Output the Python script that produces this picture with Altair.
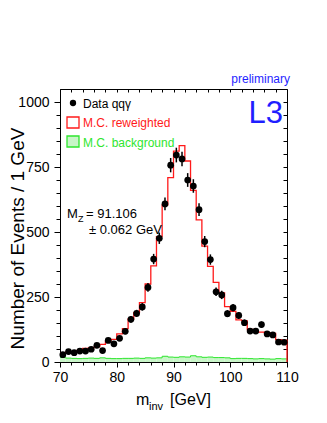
import altair as alt
import pandas as pd

# ---------------- data ----------------
bin_low = list(range(70, 110))  # 1 GeV bins, low edges
data_counts = [28, 40, 36, 42, 42, 49, 64, 44, 83, 70,
               91, 118, 164, 187, 212, 287, 396, 476, 608, 757,
               796, 781, 700, 677, 586, 463, 394, 270, 258, 186,
               209, 179, 151, 119, 119, 144, 108, 104, 77, 76]
mc_counts = [36, 38, 40, 45, 52, 54, 58, 68, 80, 87,
             108, 128, 166, 190, 228, 300, 370, 482, 604, 709,
             811, 832, 773, 660, 547, 446, 368, 306, 266, 213,
             195, 162, 158, 125, 115, 115, 113, 110, 86, 84]
bkg_counts = [18, 15, 14, 13, 14, 15, 14, 16, 14, 13,
              13, 14, 14, 15, 14, 16, 15, 16, 22, 19,
              18, 20, 19, 24, 20, 18, 19, 17, 17, 16,
              13, 14, 14, 13, 12, 13, 12, 11, 13, 12]
x_ticks = list(range(70, 111, 2))
y_ticks = list(range(0, 1001, 50))

FONT = "Liberation Sans"
RED = "#ff1a1a"
GREEN = "#2ee62e"
GREEN_FILL = "#c8f5c8"
BLUE = "#1f1fff"

pts = pd.DataFrame({"m": [b + 0.5 for b in bin_low], "n": data_counts})
rows = [{"m": b, "mc": mc_counts[i], "bkg": bkg_counts[i], "o": i} for i, b in enumerate(bin_low)]
rows.append({"m": 110, "mc": mc_counts[-1], "bkg": bkg_counts[-1], "o": len(bin_low)})
hist = pd.DataFrame(rows)
hist_drop = pd.DataFrame(rows + [{"m": 110, "mc": 0, "bkg": 0, "o": len(bin_low) + 1}])
one = pd.DataFrame({"k": [0]})

xs = alt.Scale(domain=[70, 110], nice=False)
ys = alt.Scale(domain=[0, 1050], nice=False, zero=True)

x_axis = alt.Axis(values=x_ticks, labelExpr="datum.value % 10 === 0 ? datum.label : ''",
                  labelFlush=False, labelOverlap=False, labelFontSize=14, labelPadding=3,
                  tickSize={"condition": {"test": "datum.value % 10 === 0", "value": 5}, "value": 3},
                  title=None, grid=False)
y_axis = alt.Axis(values=y_ticks, format="d",
                  labelExpr="datum.value % 250 === 0 ? datum.label : ''",
                  labelOverlap=False, labelFontSize=14, labelPadding=5,
                  tickSize={"condition": {"test": "datum.value % 250 === 0", "value": 6}, "value": 4},
                  title="Number of Events / 1 GeV", titleFontSize=19, titleFontWeight="normal",
                  titleAngle=270, titleX=-52, titleY=149, titleAlign="center", titleBaseline="top",
                  grid=False)
top_axis = alt.Axis(orient="top", values=x_ticks, labels=False, domain=False, tickSize=3,
                    offset=-3, title=None, grid=False)
right_axis = alt.Axis(orient="right", values=y_ticks, labels=False, domain=False, tickSize=4,
                      offset=-4, title=None, grid=False)

bkg_area = alt.Chart(hist).mark_area(interpolate="step-after", color=GREEN_FILL, opacity=1).encode(
    x=alt.X("m:Q", scale=xs, axis=None), y=alt.Y("bkg:Q", scale=ys, axis=None), order="o:Q")
bkg_line = alt.Chart(hist).mark_line(interpolate="step-after", color=GREEN, strokeWidth=1).encode(
    x=alt.X("m:Q", scale=xs, axis=None), y=alt.Y("bkg:Q", scale=ys, axis=None), order="o:Q")
mc_line = alt.Chart(hist_drop).mark_line(interpolate="step-after", color=RED, strokeWidth=1.3).encode(
    x=alt.X("m:Q", scale=xs, axis=None), y=alt.Y("mc:Q", scale=ys, axis=None), order="o:Q")
err = alt.Chart(pts).transform_calculate(
    lo="datum.n - sqrt(datum.n)", hi="datum.n + sqrt(datum.n)"
).mark_rule(color="black", strokeWidth=1.5).encode(
    x=alt.X("m:Q", scale=xs, axis=None), y=alt.Y("lo:Q", scale=ys, axis=None), y2="hi:Q")
dots = alt.Chart(pts).mark_circle(size=45, color="black", opacity=1).encode(
    x=alt.X("m:Q", scale=xs, axis=x_axis), y=alt.Y("n:Q", scale=ys, axis=y_axis))
mirror = alt.Chart(pts).mark_point(opacity=0).encode(
    x=alt.X("m:Q", scale=xs, axis=top_axis), y=alt.Y("n:Q", scale=ys, axis=right_axis))


def txt(s, x, y, size, color, align="left"):
    return alt.Chart(one).mark_text(text=s, align=align, baseline="alphabetic", fontSize=size,
                                    color=color, font=FONT).encode(x=alt.value(x), y=alt.value(y))


annotations = [
    txt("preliminary", 230, -6, 12, BLUE, align="right"),
    txt("L3", 223, 34, 31, BLUE, align="right"),
    alt.Chart(one).mark_circle(size=40, color="black", opacity=1).encode(x=alt.value(13), y=alt.value(14)),
    txt("Data qq\u03b3", 23, 19, 12, "black"),
    alt.Chart(one).mark_rect(fill="white", stroke=RED, strokeWidth=1.3).encode(
        x=alt.value(7), x2=alt.value(19), y=alt.value(28), y2=alt.value(39)),
    txt("M.C. reweighted", 23, 38, 12, RED),
    alt.Chart(one).mark_rect(fill=GREEN_FILL, stroke=GREEN, strokeWidth=1.3).encode(
        x=alt.value(7), x2=alt.value(19), y=alt.value(47), y2=alt.value(58)),
    txt("M.C. background", 23, 58, 12, GREEN),
    txt("M", 7, 129, 13, "black"),
    txt("Z", 18, 133, 9, "black"),
    txt("= 91.106", 26, 129, 13, "black"),
    txt("\u00b1 0.062 GeV", 29, 145, 13, "black"),
    txt("m", 76, 316, 16, "black"),
    txt("inv", 89, 321, 11, "black"),
    txt("[GeV]", 110, 316, 16, "black"),
]

chart = alt.layer(bkg_area, bkg_line, mc_line, err, dots, mirror, *annotations).resolve_axis(
    x="independent", y="independent"
).properties(
    width=227, height=273, autosize="none",
    padding={"left": 52, "top": 81, "right": 32, "bottom": 53},
).configure_view(stroke="black", strokeWidth=1).configure_axis(
    domainColor="black", tickColor="black", labelColor="black", titleColor="black",
    labelFont=FONT, titleFont=FONT, grid=False
)

chart.save("out.html", embed_options={"renderer": "svg", "actions": False})
